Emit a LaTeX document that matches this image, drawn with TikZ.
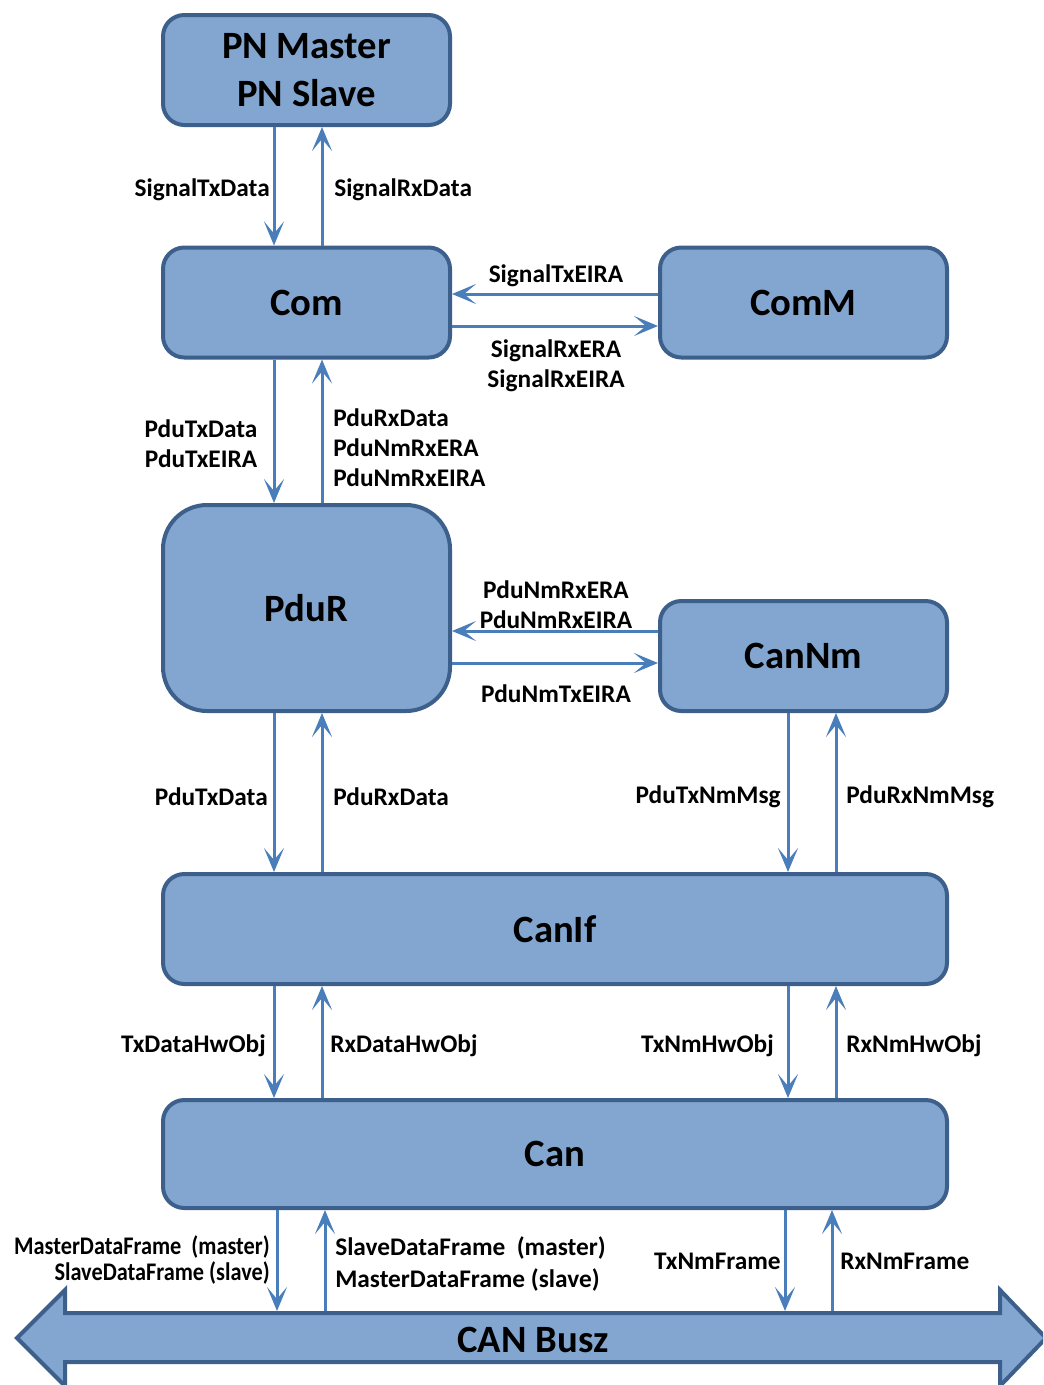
\documentclass[tikz,border=0pt]{standalone}
\usepackage{fontspec}
\setmainfont{Carlito}
\newfontfamily\narrowfont[FakeStretch=0.88]{Carlito}
\usetikzlibrary{arrows.meta}
\definecolor{boxfill}{HTML}{82A6CF}
\definecolor{boxline}{HTML}{3C5F8C}
\definecolor{flowline}{HTML}{4A7EBB}
\tikzset{
  module/.style={draw=boxline, fill=boxfill, line width=3pt, rounded corners=16pt,
    minimum width=215.25pt, minimum height=82.5pt, inner sep=0pt,
    font=\fontsize{29}{36}\selectfont\bfseries, align=center},
  flow/.style={draw=flowline, line width=2.25pt,
    -{Stealth[length=18pt, width=15pt, inset=9pt]}},
  lbl/.style={inner sep=0pt, font=\fontsize{19}{22.5}\selectfont\bfseries},
  narrowlbl/.style={inner sep=0pt, font=\fontsize{19}{19.5}\selectfont\bfseries\narrowfont}
}
\begin{document}
\begin{tikzpicture}[x=0.75pt, y=-0.75pt]
\useasboundingbox (0,0) rectangle (1043,1385);
\clip (0,0) rectangle (1043,1385);

% modules
\node[module] (pn) at (306.5,70) {PN Master\\PN Slave};
\node[module] (com) at (306.5,302.5) {Com};
\node[module] (comm) at (803.5,302.5) {ComM};
\node[module, minimum height=154.5pt, rounded corners=33pt] (pdur) at (306.5,608) {PduR};
\node[module] (cannm) at (803.5,656) {CanNm};
\node[module, minimum width=588pt] (canif) at (555,929) {CanIf};
\node[module, minimum width=588pt, minimum height=81pt] (can) at (555,1154) {Can};

% CAN bus double arrow
\draw[draw=boxline, fill=boxfill, line width=3pt, line join=miter]
  (17,1338) -- (65,1290) -- (65,1313) -- (1000,1313) -- (1000,1290) -- (1046,1338)
  -- (1000,1386) -- (1000,1362) -- (65,1362) -- (65,1386) -- cycle;
\node[font=\fontsize{29}{36}\selectfont\bfseries, inner sep=0pt] (bus) at (533,1340) {CAN Busz};
\coordinate (bustop) at (0,1311);

% vertical lanes
\coordinate (la) at (274,0);
\coordinate (lb) at (322,0);
\coordinate (ra) at (788,0);
\coordinate (rb) at (836,0);
\coordinate (ba) at (277,0);
\coordinate (bb) at (325,0);
\coordinate (bc) at (785,0);
\coordinate (bd) at (832,0);
% horizontal lanes
\coordinate (ha) at (0,294);
\coordinate (hb) at (0,326);
\coordinate (hc) at (0,631);
\coordinate (hd) at (0,663);

% PN <-> Com
\draw[flow] (pn.south -| la) -- (com.north -| la);
\draw[flow] (com.north -| lb) -- (pn.south -| lb);
\node[lbl, anchor=east] (l1) at (270,190) {SignalTxData};
\node[lbl, anchor=west] (l2) at (334,190) {SignalRxData};

% Com <-> ComM
\draw[flow] (comm.west |- ha) -- (com.east |- ha);
\draw[flow] (com.east |- hb) -- (comm.west |- hb);
\node[lbl] (l3) at (556,276) {SignalTxEIRA};
\node[lbl, align=center] (l4) at (556,366) {SignalRxERA\\SignalRxEIRA};

% Com <-> PduR
\draw[flow] (com.south -| la) -- (pdur.north -| la);
\draw[flow] (pdur.north -| lb) -- (com.south -| lb);
\node[lbl, align=center] (l5) at (201,444) {PduTxData\\PduTxEIRA};
\node[lbl, align=left, anchor=west] (l6) at (333,448) {PduRxData\\PduNmRxERA\\PduNmRxEIRA};

% PduR <-> CanNm
\draw[flow] (cannm.west |- hc) -- (pdur.east |- hc);
\draw[flow] (pdur.east |- hd) -- (cannm.west |- hd);
\node[lbl, align=center] (l7) at (556,605) {PduNmRxERA\\PduNmRxEIRA};
\node[lbl] (l8) at (556,694) {PduNmTxEIRA};

% PduR <-> CanIf
\draw[flow] (pdur.south -| la) -- (canif.north -| la);
\draw[flow] (canif.north -| lb) -- (pdur.south -| lb);
\node[lbl, anchor=east] (l9) at (268,797) {PduTxData};
\node[lbl, anchor=west] (l10) at (333,797) {PduRxData};

% CanNm <-> CanIf
\draw[flow] (cannm.south -| ra) -- (canif.north -| ra);
\draw[flow] (canif.north -| rb) -- (cannm.south -| rb);
\node[lbl, anchor=east] (l11) at (781,797) {PduTxNmMsg};
\node[lbl, anchor=west] (l12) at (846,797) {PduRxNmMsg};

% CanIf <-> Can
\draw[flow] (canif.south -| la) -- (can.north -| la);
\draw[flow] (can.north -| lb) -- (canif.south -| lb);
\draw[flow] (canif.south -| ra) -- (can.north -| ra);
\draw[flow] (can.north -| rb) -- (canif.south -| rb);
\node[lbl, anchor=east] (l13) at (266,1046) {TxDataHwObj};
\node[lbl, anchor=west] (l14) at (330,1046) {RxDataHwObj};
\node[lbl, anchor=east] (l15) at (774,1046) {TxNmHwObj};
\node[lbl, anchor=west] (l16) at (846,1046) {RxNmHwObj};

% Can <-> CAN bus
\draw[flow] (can.south -| ba) -- (bustop -| ba);
\draw[flow] (bustop -| bb) -- (can.south -| bb);
\draw[flow] (can.south -| bc) -- (bustop -| bc);
\draw[flow] (bustop -| bd) -- (can.south -| bd);
\node[narrowlbl, align=right, anchor=east] (l17) at (270,1260) {MasterDataFrame\ \ (master)\\SlaveDataFrame (slave)};
\node[lbl, align=left, anchor=west] (l18) at (335,1264) {SlaveDataFrame\ \ (master)\\[1pt]MasterDataFrame (slave)};
\node[lbl, anchor=east] (l19) at (781,1261) {TxNmFrame};
\node[lbl, anchor=west] (l20) at (840,1261) {RxNmFrame};
\end{tikzpicture}
\end{document}
